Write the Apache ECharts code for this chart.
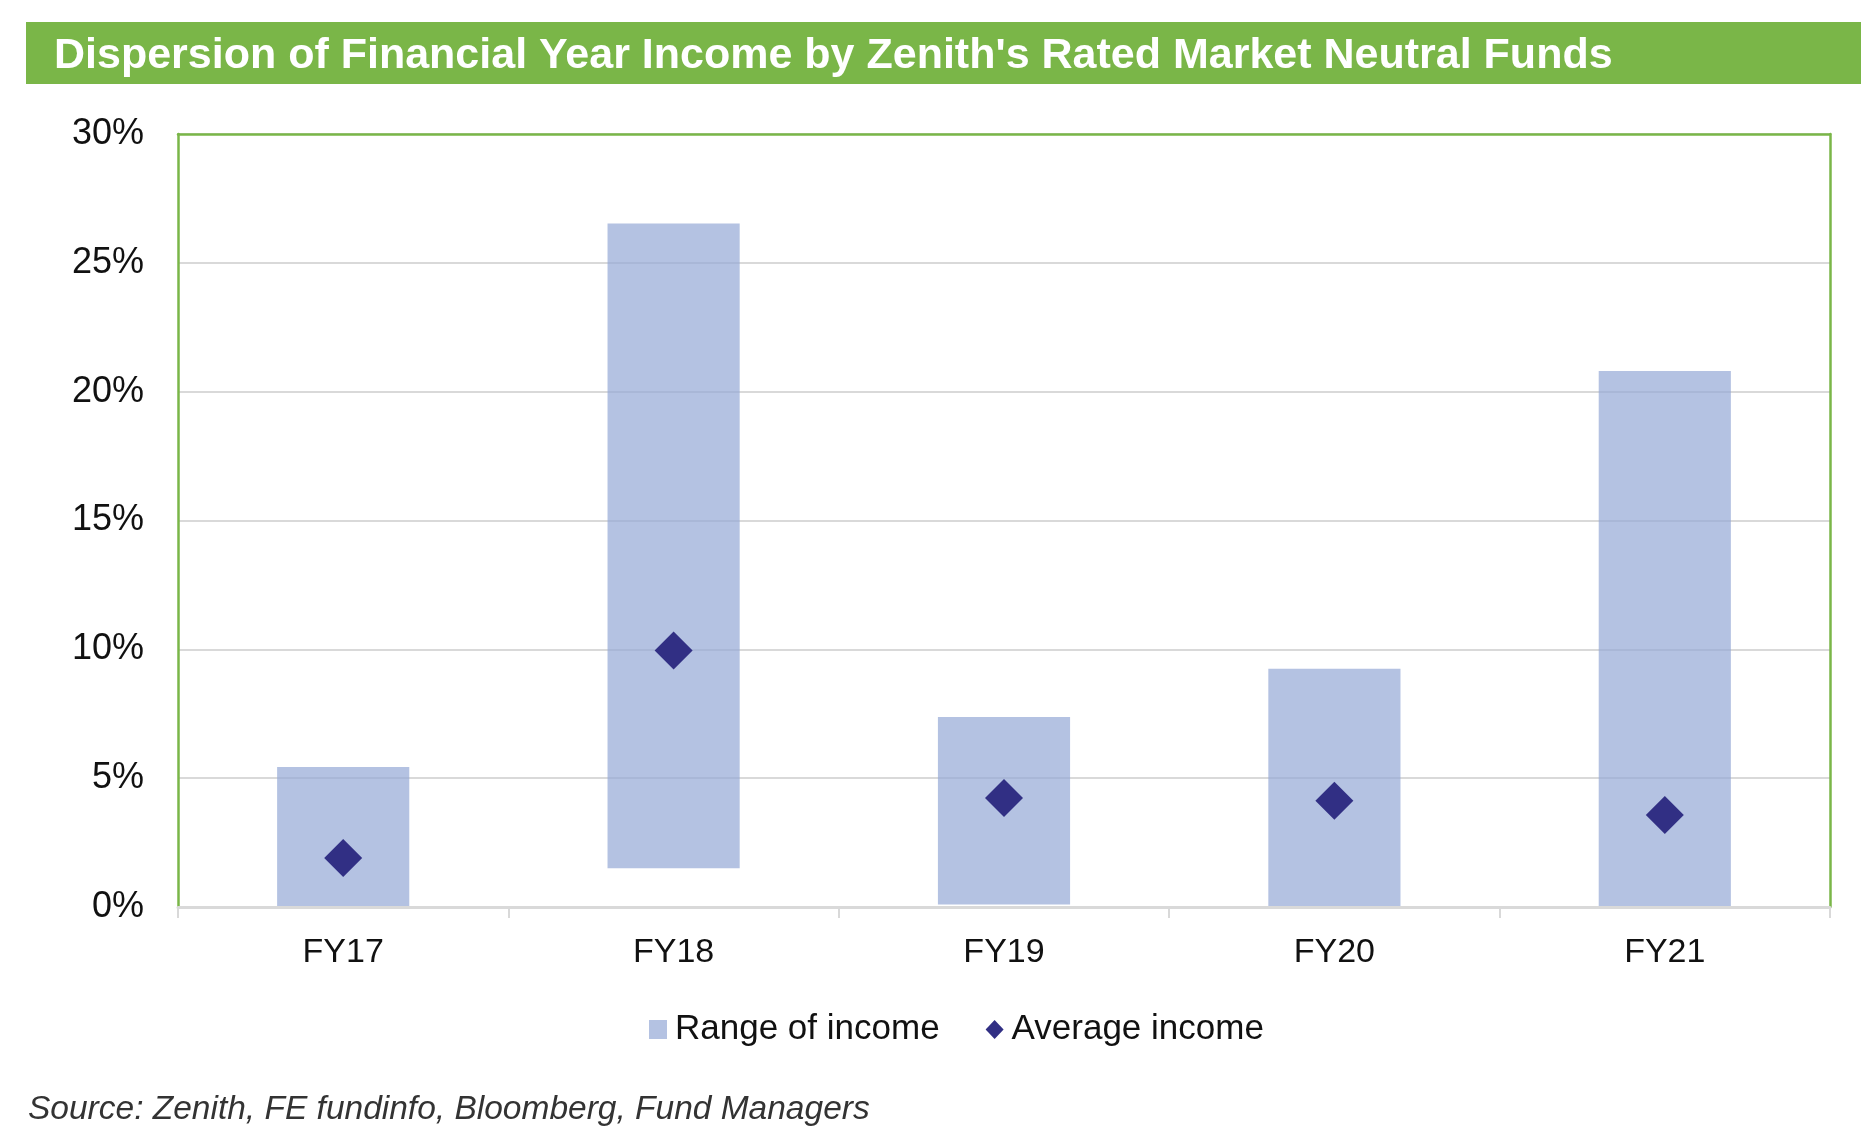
<!DOCTYPE html>
<html lang="en">

<head>
    <meta charset="UTF-8">
    <title>Dispersion of Financial Year Income</title>
    <style>
        html, body { margin: 0; padding: 0; background: #fff; }
    </style>
</head>

<body>
    <div id="main" style="width:1861px;height:1144px;"></div>
    <script src="https://cdn.jsdelivr.net/npm/echarts@6/dist/echarts.min.js"></script>
    <script>
        // values in %
        var years = ['FY17', 'FY18', 'FY19', 'FY20', 'FY21'];
        var rangeLow = [0, 1.5, 0.1, 0, 0];
        var rangeHigh = [5.43, 26.53, 7.37, 9.25, 20.8];
        var avgIncome = [1.9, 9.95, 4.23, 4.12, 3.57];

        var FONT = '"Liberation Sans", Arial, Helvetica, sans-serif';
        var GREEN = '#7ab648';

        // the visible part of each stacked bar is high - low
        var rangeSpan = [];
        for (var i = 0; i < years.length; i++) {
            rangeSpan.push(+(rangeHigh[i] - rangeLow[i]).toFixed(2));
        }

        var myChart = echarts.init(document.getElementById('main'));

        var option = {
            animation: false,
            textStyle: { fontFamily: FONT },
            title: [{
                text: "Dispersion of Financial Year Income by Zenith's Rated Market Neutral Funds",
                left: 54,
                top: 35,
                padding: 0,
                textStyle: { color: '#fff', fontSize: 43, fontWeight: 'bold', fontFamily: FONT }
            }, {
                text: 'Source: Zenith, FE fundinfo, Bloomberg, Fund Managers',
                left: 28,
                top: 1093,
                padding: 0,
                textStyle: { color: '#333', fontSize: 33.5, fontStyle: 'italic', fontWeight: 'normal', fontFamily: FONT }
            }],
            graphic: [{
                type: 'rect',
                z: -1,
                shape: { x: 26, y: 22, width: 1835, height: 62 },
                style: { fill: GREEN }
            }],
            legend: {
                left: 644,
                top: 1007,
                itemWidth: 18,
                itemHeight: 19,
                itemGap: 46,
                textStyle: { fontSize: 35, color: '#111', padding: [0, 0, 0, 3] },
                data: [
                    { name: 'Range of income', icon: 'rect' },
                    { name: 'Average income', icon: 'diamond' }
                ]
            },
            grid: {
                left: 178,
                right: 31,
                top: 134,
                bottom: 237
            },
            xAxis: [{
                type: 'category',
                data: years,
                position: 'bottom',
                axisLine: { lineStyle: { color: '#d9d9d9', width: 3 } },
                axisTick: { show: true, length: 11, lineStyle: { color: '#d9d9d9', width: 2 } },
                axisLabel: { fontSize: 34, color: '#111', margin: 29 },
                z: 5
            }, {
                type: 'category',
                data: years,
                position: 'top',
                axisLine: { onZero: false, lineStyle: { color: GREEN, width: 2.5 } },
                axisTick: { show: false },
                axisLabel: { show: false },
                z: 5
            }],
            yAxis: [{
                type: 'value',
                min: 0,
                max: 30,
                interval: 5,
                position: 'left',
                axisLine: { show: true, onZero: false, lineStyle: { color: GREEN, width: 2.5 } },
                axisTick: { show: false },
                axisLabel: { fontSize: 36, color: '#111', margin: 34, formatter: '{value}%' },
                splitLine: { lineStyle: { color: '#d9d9d9', width: 2 } }
            }, {
                type: 'value',
                min: 0,
                max: 30,
                interval: 5,
                position: 'right',
                axisLine: { show: true, onZero: false, lineStyle: { color: GREEN, width: 2.5 } },
                axisTick: { show: false },
                axisLabel: { show: false },
                splitLine: { show: false }
            }],
            series: [{
                name: 'base',
                type: 'bar',
                stack: 'range',
                barWidth: '40%',
                silent: true,
                itemStyle: { color: 'rgba(0,0,0,0)' },
                data: rangeLow
            }, {
                name: 'Range of income',
                type: 'bar',
                stack: 'range',
                barWidth: '40%',
                itemStyle: { color: 'rgba(148,168,214,0.7)' },
                data: rangeSpan
            }, {
                name: 'Average income',
                type: 'scatter',
                symbol: 'diamond',
                symbolSize: 38,
                itemStyle: { color: '#312f84', opacity: 1 },
                z: 4,
                data: avgIncome
            }]
        };

        myChart.setOption(option);
    </script>
</body>

</html>
